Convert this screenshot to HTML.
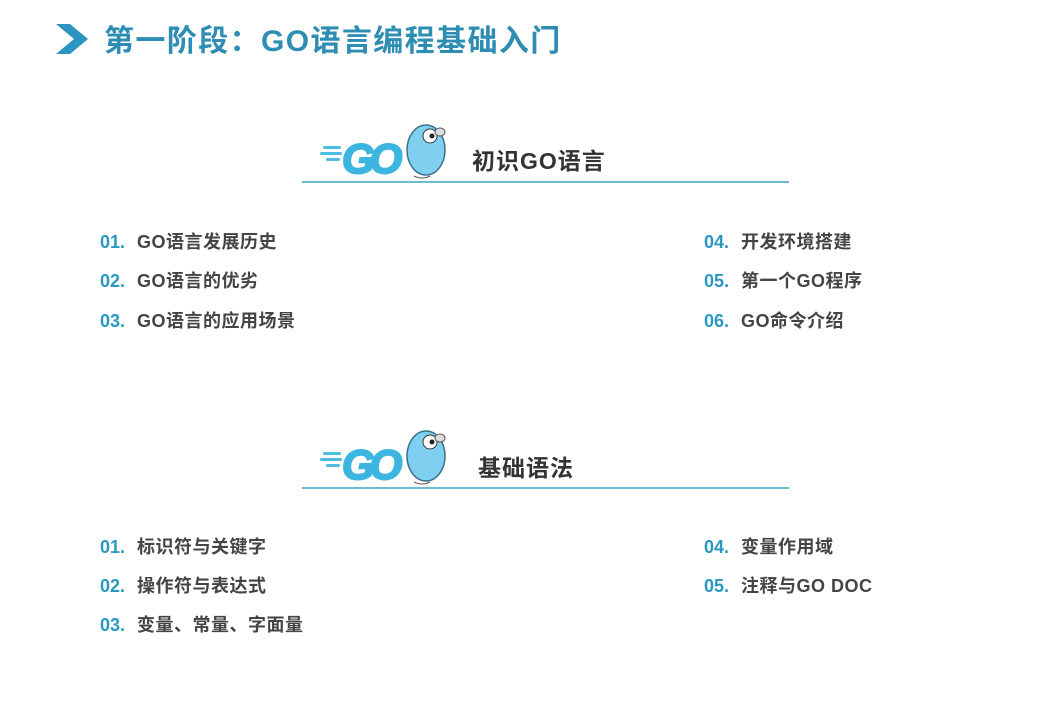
<!DOCTYPE html>
<html><head><meta charset="utf-8"><style>
body{margin:0;width:1057px;height:715px;background:#fff;position:relative;overflow:hidden;font-family:"Liberation Sans","Noto Sans CJK SC",sans-serif}
.t{position:absolute;white-space:nowrap}
.title{left:104px;top:16px;font-size:30px;font-weight:bold;color:#2e8db3;letter-spacing:1.4px}
.h{font-size:23px;color:#333;font-weight:bold;letter-spacing:1px}
.it{font-size:18px;color:#444;font-weight:bold;letter-spacing:0.5px}
.it b{color:#2a98c0;margin-right:12px;letter-spacing:0}
.line{position:absolute;left:302px;width:487px;height:2px;background:#6bbcd2}
</style></head><body>
<svg style="position:absolute;left:56px;top:24px" width="34" height="30"><polygon points="0,0 14,0 32,15 14,30 0,30 18,15" fill="#2b94c0"/></svg>
<div class="t title">第一阶段：GO语言编程基础入门</div>

<svg style="position:absolute;left:318px;top:118px" width="135" height="66">
<g fill="#4dbde3"><rect x="5" y="28" width="18" height="3" rx="1.5"/><rect x="2" y="34" width="22" height="3" rx="1.5"/><rect x="8" y="40" width="14" height="3" rx="1.5"/></g>
<text x="24" y="55" font-size="42" font-weight="900" font-style="italic" fill="#3cb6e0" stroke="#3cb6e0" stroke-width="2" font-family="Liberation Sans,sans-serif" letter-spacing="-5">GO</text>
<ellipse cx="108" cy="32" rx="19" ry="25" fill="#7fd0f0" stroke="#3a6f8a" stroke-width="1.5"/>
<circle cx="112" cy="18" r="7" fill="#fff" stroke="#333"/><circle cx="114" cy="18" r="2.5" fill="#222"/>
<ellipse cx="122" cy="14" rx="5" ry="4" fill="#ddd" stroke="#555"/>
<path d="M96 58 q8 4 16 0" stroke="#555" fill="none"/>
</svg>
<div class="t h" style="left:472px;top:142px">初识GO语言</div>
<div class="line" style="top:181px"></div>

<div class="t it" style="left:100px;top:228px"><b>01.</b>GO语言发展历史</div>
<div class="t it" style="left:100px;top:267px"><b>02.</b>GO语言的优劣</div>
<div class="t it" style="left:100px;top:307px"><b>03.</b>GO语言的应用场景</div>
<div class="t it" style="left:704px;top:228px"><b>04.</b>开发环境搭建</div>
<div class="t it" style="left:704px;top:267px"><b>05.</b>第一个GO程序</div>
<div class="t it" style="left:704px;top:307px"><b>06.</b>GO命令介绍</div>

<svg style="position:absolute;left:318px;top:424px" width="135" height="66">
<g fill="#4dbde3"><rect x="5" y="28" width="18" height="3" rx="1.5"/><rect x="2" y="34" width="22" height="3" rx="1.5"/><rect x="8" y="40" width="14" height="3" rx="1.5"/></g>
<text x="24" y="55" font-size="42" font-weight="900" font-style="italic" fill="#3cb6e0" stroke="#3cb6e0" stroke-width="2" font-family="Liberation Sans,sans-serif" letter-spacing="-5">GO</text>
<ellipse cx="108" cy="32" rx="19" ry="25" fill="#7fd0f0" stroke="#3a6f8a" stroke-width="1.5"/>
<circle cx="112" cy="18" r="7" fill="#fff" stroke="#333"/><circle cx="114" cy="18" r="2.5" fill="#222"/>
<ellipse cx="122" cy="14" rx="5" ry="4" fill="#ddd" stroke="#555"/>
<path d="M96 58 q8 4 16 0" stroke="#555" fill="none"/>
</svg>
<div class="t h" style="left:478px;top:449px">基础语法</div>
<div class="line" style="top:487px"></div>

<div class="t it" style="left:100px;top:533px"><b>01.</b>标识符与关键字</div>
<div class="t it" style="left:100px;top:572px"><b>02.</b>操作符与表达式</div>
<div class="t it" style="left:100px;top:611px"><b>03.</b>变量、常量、字面量</div>
<div class="t it" style="left:704px;top:533px"><b>04.</b>变量作用域</div>
<div class="t it" style="left:704px;top:572px"><b>05.</b>注释与GO DOC</div>
</body></html>
